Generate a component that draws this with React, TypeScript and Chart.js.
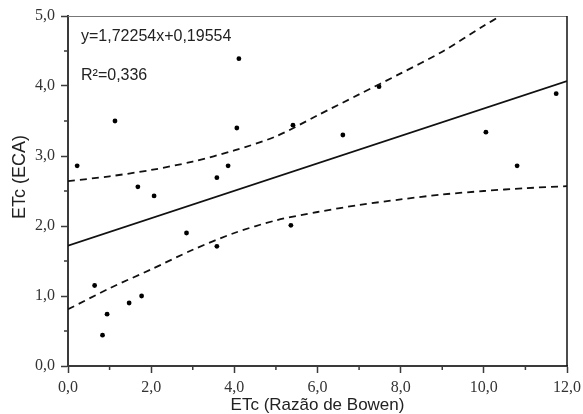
import React, { useEffect, useRef } from "react";
import { Chart, registerables } from "chart.js";

Chart.register(...registerables);

// Observed points: ETc (Razão de Bowen) vs ETc (ECA)
const xValues = [0.22, 1.13, 4.11, 4.06, 1.68, 2.07, 3.58, 3.85, 5.41, 7.48, 6.61, 10.05, 10.8, 11.74, 0.64, 0.94, 0.83, 1.47, 1.77, 2.85, 3.58, 5.36];
const yValues = [2.86, 3.5, 4.39, 3.4, 2.56, 2.43, 2.69, 2.86, 3.44, 3.99, 3.3, 3.34, 2.86, 3.89, 1.15, 0.74, 0.44, 0.9, 1.0, 1.9, 1.71, 2.01];

// Fitted line
const fitX = [0, 12];
const fitY = [1.72, 4.07];

// Confidence band (dashed)
const upperX = [0, 1, 2, 3, 4, 5, 6, 7, 8, 9, 10, 10.4];
const upperY = [2.64, 2.71, 2.8, 2.92, 3.08, 3.28, 3.58, 3.88, 4.18, 4.49, 4.86, 5.0];
const lowerX = [0, 1, 2, 3, 4, 5, 6, 7, 8, 9, 10, 11, 12];
const lowerY = [0.81, 1.11, 1.38, 1.66, 1.9, 2.08, 2.2, 2.3, 2.38, 2.45, 2.5, 2.54, 2.57];

// Axes
const xMin = 0, xMax = 12, xStep = 2;
const yMin = 0, yMax = 5, yStep = 1;
const xMinorTicks = [1, 3, 5, 7, 9, 11];
const yMinorTicks = [0.5, 1.5, 2.5, 3.5, 4.5];

// Texts
const equationText = "y=1,72254x+0,19554";
const r2Text = "R²=0,336";
const xTitle = "ETc (Razão de Bowen)";
const yTitle = "ETc (ECA)";

const fmt = (v: number) => v.toFixed(1).replace(".", ",");
const pts = (xs: number[], ys: number[]) => xs.map((x, i) => ({ x, y: ys[i] }));

const SANS = '"Liberation Sans", Arial, sans-serif';
const SERIF = '"Liberation Serif", "Times New Roman", serif';
const AXIS = "#3a3a3a";

const framePlugin = {
  id: "frame",
  afterDraw(chart: any) {
    const { ctx, chartArea: a, scales } = chart;
    ctx.save();
    // top and right borders
    ctx.strokeStyle = "#777";
    ctx.lineWidth = 1;
    ctx.beginPath();
    ctx.moveTo(a.left, a.top + 0.5);
    ctx.lineTo(a.right, a.top + 0.5);
    ctx.stroke();
    ctx.strokeStyle = "#111";
    ctx.lineWidth = 1.5;
    ctx.beginPath();
    ctx.moveTo(a.right, a.top);
    ctx.lineTo(a.right, a.bottom);
    ctx.stroke();
    // minor ticks
    ctx.strokeStyle = AXIS;
    ctx.lineWidth = 1.5;
    ctx.beginPath();
    xMinorTicks.forEach((v) => {
      const px = scales.x.getPixelForValue(v);
      ctx.moveTo(px, a.bottom);
      ctx.lineTo(px, a.bottom + 4);
    });
    yMinorTicks.forEach((v) => {
      const py = scales.y.getPixelForValue(v);
      ctx.moveTo(a.left, py);
      ctx.lineTo(a.left - 4, py);
    });
    ctx.stroke();
    // y title
    ctx.fillStyle = "#222";
    ctx.font = `18px ${SANS}`;
    ctx.textAlign = "center";
    ctx.textBaseline = "middle";
    ctx.translate(20, 177);
    ctx.rotate(-Math.PI / 2);
    ctx.fillText(yTitle, 0, 0);
    ctx.restore();
    // annotations
    ctx.save();
    ctx.fillStyle = "#222";
    ctx.font = `16px ${SANS}`;
    ctx.textAlign = "left";
    ctx.textBaseline = "alphabetic";
    ctx.fillText(equationText, 81, 41);
    ctx.fillText(r2Text, 81, 80);
    ctx.restore();
  },
};

export default function App() {
  const ref = useRef<HTMLCanvasElement | null>(null);
  useEffect(() => {
    if (!ref.current) return;
    const chart = new Chart(ref.current, {
      type: "scatter",
      data: {
        datasets: [
          {
            type: "line",
            data: pts(upperX, upperY),
            borderColor: "#111",
            borderWidth: 1.8,
            borderDash: [7, 5],
            pointRadius: 0,
            tension: 0.3,
            fill: false,
          },
          {
            type: "line",
            data: pts(lowerX, lowerY),
            borderColor: "#111",
            borderWidth: 1.8,
            borderDash: [7, 5],
            pointRadius: 0,
            tension: 0.3,
            fill: false,
          },
          {
            type: "line",
            data: pts(fitX, fitY),
            borderColor: "#111",
            borderWidth: 1.8,
            pointRadius: 0,
            fill: false,
          },
          {
            type: "scatter",
            data: pts(xValues, yValues),
            backgroundColor: "#000",
            borderWidth: 0,
            pointRadius: 2.4,
          },
        ],
      },
      options: {
        responsive: false,
        animation: false,
        layout: { padding: { left: 0, right: 16, top: 16, bottom: 0 } },
        plugins: { legend: { display: false }, tooltip: { enabled: false } },
        scales: {
          x: {
            type: "linear",
            min: xMin,
            max: xMax,
            afterFit: (s: any) => { s.height = 48; s.paddingLeft = 0; s.paddingRight = 0; },
            ticks: {
              stepSize: xStep,
              callback: (v: any) => fmt(Number(v)),
              font: { family: SERIF, size: 16 },
              color: "#333",
              padding: 5,
              maxRotation: 0,
            },
            grid: {
              display: true,
              drawOnChartArea: false,
              drawTicks: true,
              tickLength: 7,
              tickColor: AXIS,
              tickWidth: 1.5,
            },
            border: { display: true, color: AXIS, width: 2 },
            title: {
              display: true,
              text: xTitle,
              font: { family: SANS, size: 17, lineHeight: 1.0 },
              color: "#222",
              padding: { top: 0, bottom: 0 },
            },
          },
          y: {
            type: "linear",
            min: yMin,
            max: yMax,
            afterFit: (s: any) => { s.width = 68; s.paddingTop = 0; s.paddingBottom = 0; },
            ticks: {
              stepSize: yStep,
              callback: (v: any) => fmt(Number(v)),
              font: { family: SERIF, size: 16 },
              color: "#333",
              padding: 6,
            },
            grid: {
              display: true,
              drawOnChartArea: false,
              drawTicks: true,
              tickLength: 7,
              tickColor: AXIS,
              tickWidth: 1.5,
            },
            border: { display: true, color: AXIS, width: 2 },
          },
        },
      },
      plugins: [framePlugin],
    } as any);
    return () => chart.destroy();
  }, []);
  return (
    <div style={{ position: "fixed", left: 0, top: 0, width: 583, height: 414, background: "#fff" }}>
      <canvas ref={ref} width={583} height={414} />
    </div>
  );
}
